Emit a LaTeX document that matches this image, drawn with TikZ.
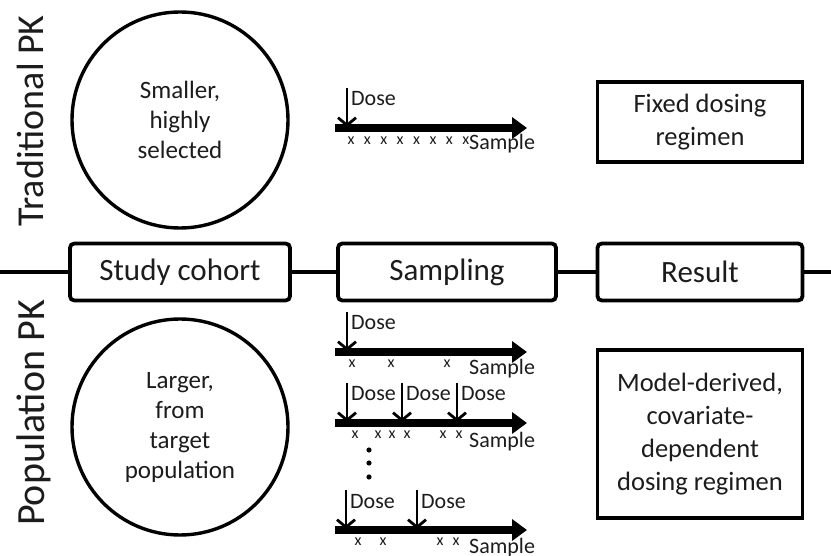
\documentclass[tikz,border=0pt]{standalone}
\usepackage{fontspec}
\setmainfont{Carlito}
\usetikzlibrary{positioning,arrows.meta}
\definecolor{pkInk}{RGB}{28,28,28}
\tikzset{
    base/.style={align=center, text=pkInk},
    side/.style={base, rotate=90, anchor=base, inner sep=0pt},
    cohort/.style={base, circle, draw=black, line width=3.4pt, minimum size=216pt,
                   font=\fontsize{25}{30}\selectfont},
    stage/.style={base, rectangle, rounded corners=1.5mm, draw=black, line width=3.8pt,
                  minimum height=57pt, font=\fontsize{31}{36}\selectfont},
    outcome/.style={base, rectangle, draw=black, line width=3.2pt, minimum width=205pt,
                    font=\fontsize{26.5}{33}\selectfont},
    rail/.style={line width=4pt, black},
    timeline/.style={line width=7.5pt, black, -{Triangle[length=15pt,width=21pt]}},
    dose/.style={line width=2.8pt, black, -{Straight Barb[length=7.5pt,width=18pt]}},
    dosetext/.style={base, anchor=base west, inner sep=0pt, font=\fontsize{22}{22}\selectfont},
    tick/.style={base, inner sep=0pt, font=\fontsize{16}{16}\selectfont},
    sampletext/.style={base, anchor=base west, inner sep=0pt, font=\fontsize{22}{22}\selectfont}
}

\begin{document}
\begin{tikzpicture}[x=1pt, y=-1pt]
  \useasboundingbox (0,0) rectangle (831,556);

  % Row labels
  \node[side, font=\fontsize{38}{40}\selectfont] (tradLabel) at (43,121) {Traditional PK};
  \node[side, font=\fontsize{40}{42}\selectfont] (popLabel) at (44,413) {Population PK};

  % Cohorts
  \node[cohort] (tradCohort) at (180,120) {Smaller,\\highly\\selected};
  \node[cohort] (popCohort) at (180,427) {Larger,\\from\\target\\population};

  % Middle rail with stages
  \coordinate (railL) at (0,272);
  \coordinate (railR) at (831,272);
  \node[stage, minimum width=220pt] (cohortBox) at (180,272) {Study cohort};
  \node[stage, minimum width=218pt] (samplingBox) at (447,272) {Sampling};
  \node[stage, minimum width=205pt] (resultBox) at (700,272) {Result};
  \draw[rail] (railL) -- (cohortBox.west);
  \draw[rail] (cohortBox.east) -- (samplingBox.west);
  \draw[rail] (samplingBox.east) -- (resultBox.west);
  \draw[rail] (resultBox.east) -- (railR);

  % Results
  \node[outcome, minimum height=80pt] (fixedBox) at (700,122) {Fixed dosing\\regimen};
  \node[outcome, minimum height=168pt] (modelBox) at (700,434)
    {Model-derived,\\covariate-\\dependent\\dosing regimen};

  % Traditional sampling
  \coordinate (tA) at (335,128);
  \coordinate (tB) at (527,128);
  \draw[timeline] (tA) -- (tB);
  \draw[dose] (347,88) -- (347,127);
  \node[dosetext] at (351,106) {Dose};
  \foreach \s in {0,...,7}
    \node[tick] at (351+16.4*\s,141) {x};
  \node[sampletext] at (469,150) {Sample};

  % Population sampling, single dose
  \coordinate (pA) at (335,352);
  \coordinate (pB) at (527,352);
  \draw[timeline] (pA) -- (pB);
  \draw[dose] (347,312) -- (347,351);
  \node[dosetext] at (351,330) {Dose};
  \foreach \s in {352,391,447}
    \node[tick] at (\s,364) {x};
  \node[sampletext] at (469,374) {Sample};

  % Population sampling, three doses
  \coordinate (qA) at (335,423);
  \coordinate (qB) at (527,423);
  \draw[timeline] (qA) -- (qB);
  \foreach \d in {347,402,457} {
    \draw[dose] (\d,383) -- (\d,422);
    \node[dosetext] at (\d+4,401) {Dose};
  }
  \foreach \s in {355,378,392,407,443,459}
    \node[tick] at (\s,435) {x};
  \node[sampletext] at (469,447) {Sample};

  % More subjects
  \foreach \y in {450,463,477}
    \fill (369,\y) circle (2.6pt);

  % Population sampling, two doses
  \coordinate (rA) at (335,530);
  \coordinate (rB) at (527,530);
  \draw[timeline] (rA) -- (rB);
  \foreach \d in {346,417} {
    \draw[dose] (\d,490) -- (\d,529);
    \node[dosetext] at (\d+4,508) {Dose};
  }
  \foreach \s in {358,383,440,456}
    \node[tick] at (\s,542) {x};
  \node[sampletext] at (469,553) {Sample};
\end{tikzpicture}
\end{document}
